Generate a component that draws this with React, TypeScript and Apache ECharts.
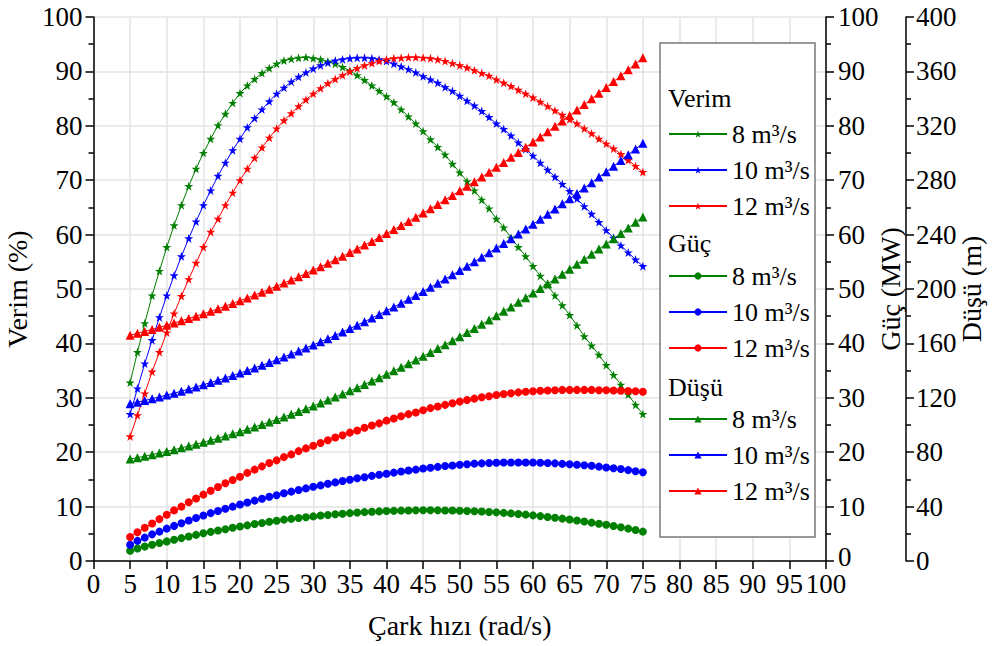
import React, { useEffect, useRef } from "react";
import * as echarts from "echarts";

// Çark hızı (rad/s)
const speed = [5, 6, 7, 8, 9, 10, 11, 12, 13, 14, 15, 16, 17, 18, 19, 20, 21, 22, 23, 24, 25, 26, 27, 28, 29, 30, 31, 32, 33, 34, 35, 36, 37, 38, 39, 40, 41, 42, 43, 44, 45, 46, 47, 48, 49, 50, 51, 52, 53, 54, 55, 56, 57, 58, 59, 60, 61, 62, 63, 64, 65, 66, 67, 68, 69, 70, 71, 72, 73, 74, 75];

// Verim (%)
const verim8 = [32.8, 38.4, 43.7, 48.8, 53.3, 57.7, 61.7, 65.4, 68.9, 72.1, 75.0, 77.6, 80.1, 82.2, 84.2, 86.0, 87.4, 88.6, 89.7, 90.6, 91.4, 92.0, 92.3, 92.5, 92.6, 92.4, 92.2, 91.8, 91.4, 90.8, 90.1, 89.3, 88.4, 87.4, 86.4, 85.4, 84.3, 83.0, 81.7, 80.4, 79.0, 77.5, 76.1, 74.7, 73.0, 71.4, 69.8, 68.1, 66.4, 64.8, 62.9, 61.3, 59.4, 57.7, 56.0, 54.2, 52.4, 50.7, 48.8, 47.0, 45.2, 43.3, 41.3, 39.6, 37.9, 36.0, 34.2, 32.4, 30.6, 28.7, 27.0];
const verim10 = [27.0, 31.7, 36.3, 40.6, 44.8, 48.8, 52.5, 56.0, 59.3, 62.4, 65.4, 68.1, 70.8, 73.2, 75.5, 77.6, 79.7, 81.4, 83.0, 84.5, 85.9, 87.0, 88.1, 89.0, 89.8, 90.5, 91.1, 91.6, 92.0, 92.2, 92.4, 92.5, 92.5, 92.4, 92.2, 91.9, 91.4, 90.9, 90.4, 89.8, 89.1, 88.5, 87.9, 87.1, 86.4, 85.5, 84.6, 83.7, 82.7, 81.6, 80.4, 79.4, 78.2, 76.9, 75.7, 74.5, 73.2, 71.9, 70.6, 69.3, 68.0, 66.6, 65.2, 63.8, 62.3, 60.8, 59.4, 58.0, 56.7, 55.4, 54.2];
const verim12 = [22.9, 26.8, 30.8, 34.8, 38.4, 42.0, 45.5, 48.7, 51.8, 54.8, 57.7, 60.5, 62.9, 65.4, 67.7, 70.0, 72.1, 74.1, 76.0, 77.8, 79.5, 81.0, 82.3, 83.6, 84.8, 85.9, 86.9, 87.8, 88.6, 89.3, 90.0, 90.6, 91.1, 91.5, 91.9, 92.2, 92.4, 92.5, 92.6, 92.6, 92.5, 92.4, 92.2, 91.9, 91.5, 91.1, 90.7, 90.2, 89.7, 89.2, 88.5, 87.9, 87.3, 86.6, 85.9, 85.2, 84.4, 83.6, 82.8, 82.0, 81.2, 80.4, 79.5, 78.6, 77.6, 76.7, 75.8, 74.8, 73.7, 72.6, 71.5];

// Güç (MW)
const guc8 = [1.9, 2.3, 2.65, 3.0, 3.3, 3.6, 3.9, 4.2, 4.5, 4.8, 5.1, 5.35, 5.6, 5.85, 6.1, 6.35, 6.55, 6.8, 7.0, 7.2, 7.4, 7.6, 7.75, 7.9, 8.05, 8.2, 8.35, 8.45, 8.6, 8.7, 8.8, 8.9, 8.98, 9.05, 9.12, 9.18, 9.22, 9.26, 9.29, 9.31, 9.32, 9.32, 9.31, 9.29, 9.27, 9.24, 9.2, 9.15, 9.09, 9.02, 8.94, 8.85, 8.75, 8.64, 8.52, 8.39, 8.25, 8.1, 7.95, 7.79, 7.62, 7.44, 7.25, 7.06, 6.86, 6.65, 6.42, 6.19, 5.95, 5.7, 5.4];
const guc10 = [3.0, 3.7, 4.3, 4.9, 5.4, 5.95, 6.45, 6.95, 7.45, 7.9, 8.35, 8.8, 9.2, 9.6, 10.0, 10.4, 10.75, 11.1, 11.45, 11.8, 12.1, 12.45, 12.75, 13.05, 13.35, 13.65, 13.9, 14.2, 14.45, 14.7, 14.95, 15.2, 15.4, 15.65, 15.85, 16.05, 16.25, 16.45, 16.65, 16.8, 17.0, 17.15, 17.3, 17.45, 17.55, 17.7, 17.8, 17.9, 17.95, 18.0, 18.05, 18.1, 18.1, 18.1, 18.1, 18.1, 18.05, 18.0, 17.95, 17.85, 17.8, 17.7, 17.6, 17.5, 17.35, 17.2, 17.05, 16.9, 16.7, 16.5, 16.3];
const guc12 = [4.4, 5.3, 6.1, 6.9, 7.7, 8.5, 9.3, 10.0, 10.8, 11.5, 12.2, 12.9, 13.6, 14.3, 14.9, 15.5, 16.2, 16.8, 17.4, 18.0, 18.5, 19.1, 19.6, 20.2, 20.7, 21.2, 21.7, 22.2, 22.7, 23.1, 23.6, 24.0, 24.5, 24.9, 25.3, 25.8, 26.2, 26.6, 27.0, 27.3, 27.7, 28.1, 28.4, 28.7, 29.0, 29.3, 29.6, 29.85, 30.1, 30.3, 30.5, 30.7, 30.85, 31.0, 31.1, 31.2, 31.3, 31.35, 31.4, 31.45, 31.45, 31.45, 31.45, 31.45, 31.4, 31.4, 31.35, 31.3, 31.25, 31.2, 31.1];

// Düşü (m)
const dusu8 = [75.0, 76.0, 77.1, 78.2, 79.4, 80.6, 81.8, 83.2, 84.5, 85.9, 87.3, 88.8, 90.3, 91.9, 93.5, 95.1, 96.8, 98.6, 100.3, 102.2, 104.0, 105.9, 107.9, 109.9, 111.9, 114.0, 116.2, 118.3, 120.6, 122.8, 125.1, 127.4, 129.8, 132.3, 134.8, 137.3, 139.8, 142.4, 145.1, 147.8, 150.6, 153.3, 156.2, 159.0, 162.0, 164.9, 168.0, 171.0, 174.0, 177.2, 180.4, 183.6, 186.8, 190.2, 193.6, 197.0, 200.4, 203.9, 207.3, 210.9, 214.5, 218.2, 221.8, 225.6, 229.4, 233.1, 237.0, 240.9, 244.9, 249.0, 253.0];
const dusu10 = [115.6, 116.8, 118.0, 119.3, 120.6, 122.0, 123.4, 124.9, 126.4, 128.0, 129.6, 131.2, 132.9, 134.6, 136.4, 138.2, 140.1, 142.0, 143.9, 145.9, 148.0, 150.0, 152.2, 154.4, 156.6, 158.9, 161.2, 163.5, 165.9, 168.4, 170.9, 173.4, 176.0, 178.6, 181.3, 184.0, 186.8, 189.6, 192.4, 195.3, 198.2, 201.2, 204.2, 207.3, 210.4, 213.6, 216.8, 220.1, 223.4, 226.7, 230.1, 233.5, 237.0, 240.5, 244.1, 247.7, 251.3, 255.0, 258.8, 262.6, 266.4, 270.3, 274.3, 278.2, 282.3, 286.2, 290.3, 294.5, 298.7, 302.9, 307.2];
const dusu12 = [166.0, 167.4, 168.8, 170.3, 171.8, 173.4, 175.0, 176.6, 178.3, 180.0, 181.8, 183.6, 185.5, 187.4, 189.4, 191.4, 193.4, 195.6, 197.7, 199.9, 202.1, 204.4, 206.7, 209.0, 211.4, 213.9, 216.3, 218.9, 221.5, 224.1, 226.8, 229.5, 232.3, 235.0, 237.9, 240.8, 243.7, 246.7, 249.7, 252.8, 255.9, 259.0, 262.2, 265.6, 268.8, 272.2, 275.5, 278.9, 282.4, 285.9, 289.5, 293.1, 296.8, 300.4, 304.2, 308.0, 311.8, 315.6, 319.6, 323.5, 327.5, 331.6, 335.6, 339.8, 344.0, 348.2, 352.5, 356.8, 361.2, 365.5, 370.0];

const flowLabels = ["8 m³/s", "10 m³/s", "12 m³/s"];
const groupTitles = ["Verim", "Güç", "Düşü"];

const FONT = "Liberation Serif";
const GREEN = "#008000";
const BLUE = "#0000ff";
const RED = "#ff0000";
const STAR =
  "path://M50,0 L61.2,34.5 L97.6,34.5 L68.2,55.9 L79.4,90.5 L50,69.1 L20.6,90.5 L31.8,55.9 L2.4,34.5 L38.8,34.5 Z";

export default function App() {
  const ref = useRef<HTMLDivElement>(null);

  useEffect(() => {
    document.body.style.margin = "0";
    const chart = echarts.init(ref.current!, null, { renderer: "svg" });
    const pair = (ys: number[]) => speed.map((x, i) => [x, ys[i]]);
    const mk = (
      name: string,
      data: number[],
      color: string,
      symbol: string,
      size: number,
      yAxisIndex: number
    ) => ({
      name,
      type: "line",
      data: pair(data),
      yAxisIndex,
      symbol,
      symbolSize: size,
      showSymbol: true,
      lineStyle: { color, width: 1 },
      itemStyle: { color },
      emphasis: { disabled: true },
      z: 3,
    });

    const names = {
      verim: ["V8", "V10", "V12"],
      guc: ["G8", "G10", "G12"],
      dusu: ["D8", "D10", "D12"],
    };
    const labelOf: Record<string, string> = {};
    ["verim", "guc", "dusu"].forEach((k) =>
      (names as any)[k].forEach((n: string, i: number) => (labelOf[n] = flowLabels[i]))
    );

    const series = [
      mk("V8", verim8, GREEN, STAR, 9, 0),
      mk("V10", verim10, BLUE, STAR, 9, 0),
      mk("V12", verim12, RED, STAR, 9, 0),
      mk("G8", guc8, GREEN, "circle", 8, 1),
      mk("G10", guc10, BLUE, "circle", 8, 1),
      mk("G12", guc12, RED, "circle", 8, 1),
      mk("D8", dusu8, GREEN, "triangle", 9, 2),
      mk("D10", dusu10, BLUE, "triangle", 9, 2),
      mk("D12", dusu12, RED, "triangle", 9, 2),
    ];

    const legendTops = [121, 263, 406];
    const legendBase = (data: string[], top: number) => ({
      data,
      orient: "vertical",
      left: 668,
      top,
      padding: 0,
      itemWidth: 58,
      itemHeight: 9,
      itemGap: 10,
      selectedMode: false,
      formatter: (n: string) => labelOf[n],
      lineStyle: { width: 2 },
      textStyle: { fontFamily: FONT, fontSize: 26, color: "#000", lineHeight: 26 },
      z: 6,
    });

    const axisCommon = {
      axisLine: { show: true, lineStyle: { color: "#000", width: 1.5 } },
      axisTick: { show: true, length: 8, lineStyle: { color: "#000", width: 1.5 } },
      minorTick: { show: true, splitNumber: 2, length: 5, lineStyle: { color: "#000", width: 1.5 } },
      nameTextStyle: { fontFamily: FONT, fontSize: 28, color: "#000" },
      nameLocation: "middle",
      nameMoveOverlap: false,
    };
    const lbl = (margin: number) => ({
      fontFamily: FONT,
      fontSize: 27,
      lineHeight: 19,
      color: "#000",
      margin,
    });

    chart.setOption({
      animation: false,
      backgroundColor: "#fff",
      textStyle: { fontFamily: FONT },
      grid: {
        left: 93.5,
        right: 171,
        top: 17,
        bottom: 85,
        containLabel: false,
        outerBoundsMode: "none",
      },
      xAxis: {
        type: "value",
        min: 0,
        max: 100,
        interval: 5,
        name: "Çark hızı (rad/s)",
        nameGap: 50,
        ...axisCommon,
        minorTick: { show: false },
        splitLine: { show: true, lineStyle: { color: "#e3e3e3", width: 1.5 } },
        axisLabel: lbl(13),
      },
      yAxis: [
        {
          type: "value",
          position: "left",
          min: 0,
          max: 100,
          interval: 10,
          name: "Verim (%)",
          nameGap: 62,
          ...axisCommon,
          axisLabel: lbl(11),
          splitLine: { show: true, lineStyle: { color: "#e3e3e3", width: 1.5 } },
        },
        {
          type: "value",
          position: "right",
          min: 0,
          max: 100,
          interval: 10,
          name: "Güç (MW)",
          nameGap: 50,
          ...axisCommon,
          axisLabel: {
            ...lbl(12),
            formatter: (v: number) => (v === 0 ? "{z|0}" : String(v)),
            rich: {
              z: { fontFamily: FONT, fontSize: 27, lineHeight: 19, color: "#000", padding: [0, 0, 9, 0] },
            },
          },
          splitLine: { show: false },
        },
        {
          type: "value",
          position: "right",
          offset: 80,
          min: 0,
          max: 400,
          interval: 40,
          name: "Düşü (m)",
          nameGap: 51,
          ...axisCommon,
          axisLabel: lbl(10),
          splitLine: { show: false },
        },
      ],
      legend: [
        legendBase(names.verim, legendTops[0]),
        legendBase(names.guc, legendTops[1]),
        legendBase(names.dusu, legendTops[2]),
      ],
      graphic: [
        {
          type: "rect",
          shape: { x: 660, y: 43, width: 155, height: 494 },
          style: { fill: "#fff", stroke: "#7a7a7a", lineWidth: 1.5 },
          z: 5,
        },
        ...groupTitles.map((t, i) => ({
          type: "text",
          x: 668,
          y: [98, 243, 387][i],
          style: {
            text: t,
            fontFamily: FONT,
            fontSize: 26,
            fill: "#000",
            verticalAlign: "middle",
          },
          z: 7,
        })),
      ],
      series,
    });
    return () => chart.dispose();
  }, []);

  return <div ref={ref} style={{ width: 997, height: 646 }} />;
}
